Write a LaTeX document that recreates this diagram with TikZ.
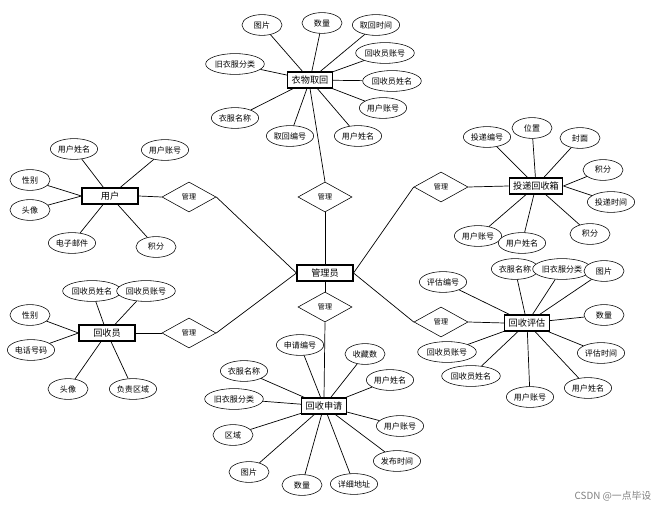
\documentclass[tikz,border=0pt]{standalone}
\usepackage{fontspec}
\setmainfont{Noto Sans CJK SC}
\usetikzlibrary{shapes.geometric, positioning}

\begin{document}
\begin{tikzpicture}[
  x=0.025cm, y=-0.025cm,
  font=\fontsize{5.7}{6}\selectfont,
  % Estilos de nodos
  attr/.style={draw, ellipse, minimum width=1cm, minimum height=0.52cm, inner xsep=0.5pt, inner ysep=0pt, fill=white},
  entity/.style={draw, rectangle, line width=0.75pt, minimum width=1.1cm, minimum height=0.4cm, inner xsep=0.1cm, inner ysep=0pt, fill=white, font=\fontsize{6.5}{7}\selectfont},
  rel/.style={draw, diamond, minimum width=1.35cm, minimum height=0.75cm, inner sep=0pt, fill=white, font=\fontsize{5}{5}\selectfont},
  % Estilos de lineas
  line/.style={draw, line width=0.5pt}
]
  \useasboundingbox (0,0) rectangle (669,510);

  % ==========================================
  % CENTRO: ADMIN Y RELACIONES
  % ==========================================
  \node[entity, minimum width=1.4cm] (admin) at (325,273) {管理员};
  \node[rel] (r_top) at (325,197) {管理};
  \node[rel] (r_bot) at (325,307) {管理};
  \node[rel] (r_ul) at (189,197) {管理};
  \node[rel] (r_ll) at (189,333) {管理};
  \node[rel] (r_ur) at (441,187) {管理};
  \node[rel] (r_lr) at (441,322) {管理};

  \draw[line] (admin.north) -- (r_top.south);
  \draw[line] (admin.south) -- (r_bot.north);
  \draw[line] (admin.west) -- (r_ul.east);
  \draw[line] (admin.west) -- (r_ll.east);
  \draw[line] (admin.east) -- (r_ur.west);
  \draw[line] (admin.east) -- (r_lr.west);

  % ==========================================
  % 衣物取回
  % ==========================================
  \node[entity] (quhui) at (310,80) {衣物取回};
  \node[attr] (qh1) at (262,25) {图片};
  \node[attr] (qh2) at (322,23) {数量};
  \node[attr] (qh3) at (376,25) {取回时间};
  \node[attr] (qh4) at (385,53) {回收员账号};
  \node[attr] (qh5) at (392,81) {回收员姓名};
  \node[attr] (qh6) at (383,108) {用户账号};
  \node[attr] (qh7) at (358,136) {用户姓名};
  \node[attr] (qh8) at (290,136) {取回编号};
  \node[attr] (qh9) at (235,118) {衣服名称};
  \node[attr] (qh10) at (235,64) {旧衣服分类};

  \draw[line] (quhui) -- (qh1) (quhui) -- (qh2) (quhui) -- (qh3) (quhui) -- (qh4) (quhui) -- (qh5);
  \draw[line] (quhui) -- (qh6) (quhui) -- (qh7) (quhui) -- (qh8) (quhui) -- (qh9) (quhui) -- (qh10);
  \draw[line] (quhui.south) -- (r_top.north);

  % ==========================================
  % 用户
  % ==========================================
  \node[entity, minimum width=1.4cm] (yonghu) at (110,196) {用户};
  \node[attr] (yh1) at (74,149) {用户姓名};
  \node[attr] (yh2) at (165,150) {用户账号};
  \node[attr] (yh3) at (30,180) {性别};
  \node[attr] (yh4) at (30,210) {头像};
  \node[attr] (yh5) at (72,243) {电子邮件};
  \node[attr] (yh6) at (156,247) {积分};

  \draw[line] (yonghu) -- (yh1) (yonghu) -- (yh2) (yonghu.west) -- (yh3) (yonghu.west) -- (yh4) (yonghu) -- (yh5) (yonghu) -- (yh6);
  \draw[line] (yonghu.east) -- (r_ul.west);

  % ==========================================
  % 回收员
  % ==========================================
  \node[entity, minimum width=1.4cm] (hsy) at (107,333) {回收员};
  \node[attr] (hy1) at (92,291) {回收员姓名};
  \node[attr] (hy2) at (146,291) {回收员账号};
  \node[attr] (hy3) at (30,315) {性别};
  \node[attr] (hy4) at (31,350) {电话号码};
  \node[attr] (hy5) at (68,389) {头像};
  \node[attr] (hy6) at (133,389) {负责区域};

  \draw[line] (hsy) -- (hy1) (hsy) -- (hy2) (hsy.west) -- (hy3) (hsy.west) -- (hy4) (hsy) -- (hy5) (hsy) -- (hy6);
  \draw[line] (hsy.east) -- (r_ll.west);

  % ==========================================
  % 回收申请
  % ==========================================
  \node[entity] (shenqing) at (324,406) {回收申请};
  \node[attr] (sq1) at (300,345) {申请编号};
  \node[attr] (sq2) at (365,354) {收藏数};
  \node[attr] (sq3) at (390,380) {用户姓名};
  \node[attr] (sq4) at (400,426) {用户账号};
  \node[attr] (sq5) at (397,461) {发布时间};
  \node[attr] (sq6) at (354,484) {详细地址};
  \node[attr] (sq7) at (302,485) {数量};
  \node[attr] (sq8) at (249,472) {图片};
  \node[attr] (sq9) at (233,435) {区域};
  \node[attr] (sq10) at (234,399) {旧衣服分类};
  \node[attr] (sq11) at (244,371) {衣服名称};

  \draw[line] (shenqing) -- (sq1) (shenqing) -- (sq2) (shenqing) -- (sq3) (shenqing) -- (sq4) (shenqing) -- (sq5) (shenqing) -- (sq6);
  \draw[line] (shenqing) -- (sq7) (shenqing) -- (sq8) (shenqing) -- (sq9) (shenqing) -- (sq10) (shenqing) -- (sq11);
  \draw[line] (r_bot.south) -- (shenqing.north);

  % ==========================================
  % 投递回收箱
  % ==========================================
  \node[entity] (toudi) at (536,186) {投递回收箱};
  \node[attr] (td1) at (487,137) {投递编号};
  \node[attr] (td2) at (532,128) {位置};
  \node[attr] (td3) at (580,138) {封面};
  \node[attr] (td4) at (603,170) {积分};
  \node[attr] (td5) at (611,202) {投递时间};
  \node[attr] (td6) at (590,234) {积分};
  \node[attr] (td7) at (478,236) {用户账号};
  \node[attr] (td8) at (522,243) {用户姓名};

  \draw[line] (toudi) -- (td1) (toudi) -- (td2) (toudi) -- (td3) (toudi.east) -- (td4) (toudi.east) -- (td5) (toudi) -- (td6) (toudi) -- (td7) (toudi) -- (td8);
  \draw[line] (r_ur.east) -- (toudi.west);

  % ==========================================
  % 回收评估
  % ==========================================
  \node[entity] (pinggu) at (527,323) {回收评估};
  \node[attr] (pg1) at (443,282) {评估编号};
  \node[attr] (pg2) at (515,269) {衣服名称};
  \node[attr] (pg3) at (562,269) {旧衣服分类};
  \node[attr] (pg4) at (604,271) {图片};
  \node[attr] (pg5) at (604,315) {数量};
  \node[attr] (pg6) at (601,353) {评估时间};
  \node[attr] (pg7) at (588,388) {用户姓名};
  \node[attr] (pg8) at (530,397) {用户账号};
  \node[attr] (pg9) at (471,376) {回收员姓名};
  \node[attr] (pg10) at (447,352) {回收员账号};

  \draw[line] (pinggu) -- (pg1) (pinggu) -- (pg2) (pinggu) -- (pg3) (pinggu) -- (pg4) (pinggu) -- (pg5);
  \draw[line] (pinggu) -- (pg6) (pinggu) -- (pg7) (pinggu) -- (pg8) (pinggu) -- (pg9) (pinggu) -- (pg10);
  \draw[line] (r_lr.east) -- (pinggu.west);

  % Marca de agua
  \node[text=gray, font=\fontsize{7}{8}\selectfont] (marca) at (613,496) {CSDN @一点毕设};

\end{tikzpicture}
\end{document}
